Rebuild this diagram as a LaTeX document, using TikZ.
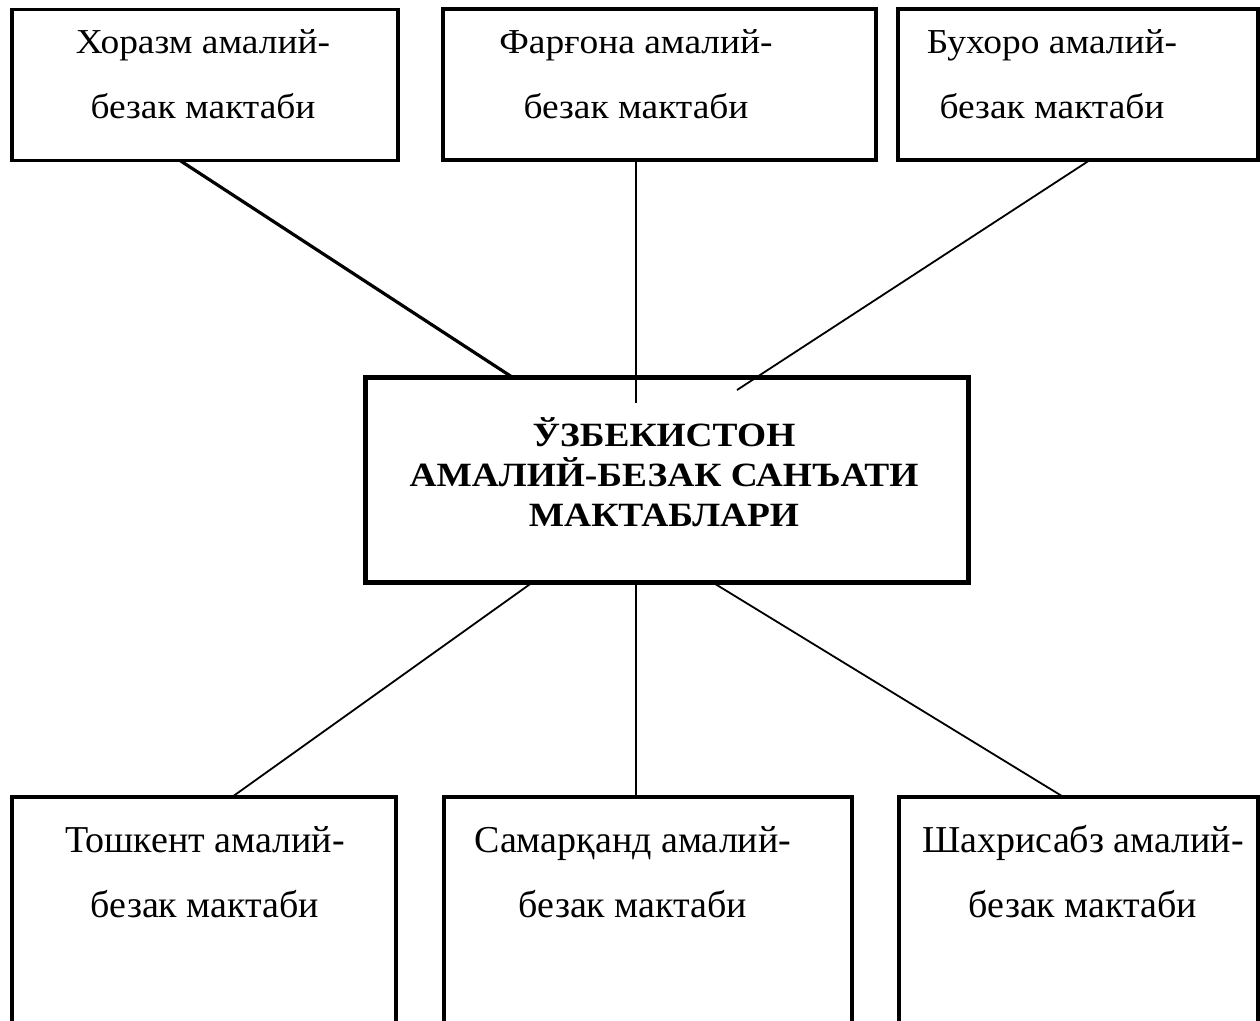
\documentclass[tikz,border=0pt]{standalone}
\usepackage{fontspec}
\setmainfont{Liberation Serif}
\newfontfamily\topfont[FakeStretch=1.07]{Liberation Serif}
\newfontfamily\mainfont[FakeStretch=1.1]{Liberation Serif}
\usetikzlibrary{calc}
\begin{document}
\begin{tikzpicture}[x=1pt,y=-1pt,
  box/.style={draw, line width=3.2pt, inner sep=0pt, outer sep=0pt},
  mainbox/.style={draw, line width=5pt, inner sep=0pt, outer sep=0pt},
  toplbl/.style={align=center, font=\topfont\fontsize{35}{65}\selectfont, inner sep=0pt},
  botlbl/.style={align=center, font=\fontsize{38}{65}\selectfont, inner sep=0pt},
  mainlbl/.style={align=center, font=\mainfont\bfseries\fontsize{34}{40}\selectfont, inner sep=0pt},
  link/.style={line width=1.8pt},
  thicklink/.style={line width=3.2pt}]
\clip (0,0) rectangle (1260,1020);
% top boxes
\node[box, minimum width=386pt, minimum height=151pt] (b1) at (205,85) {};
\node[box, minimum width=433pt, minimum height=151pt] (b2) at (659.5,84.5) {};
\node[box, minimum width=360pt, minimum height=151pt] (b3) at (1078,84.5) {};
\node[toplbl] (t1) at (203,74.5) {Хоразм амалий-\\безак мактаби};
\node[toplbl] (t2) at (636,74.5) {Фарғона амалий-\\безак мактаби};
\node[toplbl] (t3) at (1052,74.5) {Бухоро амалий-\\безак мактаби};
% central box
\node[mainbox, minimum width=603pt, minimum height=205pt] (cb) at (666.5,479.5) {};
\node[mainlbl] (ct) at (664,472.5) {ЎЗБЕКИСТОН\\АМАЛИЙ-БЕЗАК САНЪАТИ\\МАКТАБЛАРИ};
% bottom boxes
\node[box, minimum width=384pt, minimum height=263pt] (b4) at (204,928.5) {};
\node[box, minimum width=408pt, minimum height=263pt] (b5) at (648,928.5) {};
\node[box, minimum width=359pt, minimum height=263pt] (b6) at (1078.5,928.5) {};
\node[botlbl] (t4) at (205,872) {Тошкент амалий-\\безак мактаби};
\node[botlbl] (t5) at (633,872) {Самарқанд амалий-\\безак мактаби};
\node[botlbl] (t6) at (1083,872) {Шахрисабз амалий-\\безак мактаби};
% connectors
\draw[thicklink] ($(b1.south)+(-25,0)$) -- ($(cb.north)+(-154.5,0)$);
\draw[link] ($(b2.south)+(-23.5,0)$) -- ($(cb.north)+(-30.5,26)$);
\draw[link] ($(b3.south)+(12,0)$) -- ($(cb.north)+(70.5,13)$);
\draw[link] ($(cb.south)+(-133.5,0)$) -- ($(b4.north)+(28,0)$);
\draw[link] ($(cb.south)+(-30.5,0)$) -- ($(b5.north)+(-12,0)$);
\draw[link] ($(cb.south)+(45.5,0)$) -- ($(b6.north)+(-15,0)$);
\end{tikzpicture}
\end{document}
